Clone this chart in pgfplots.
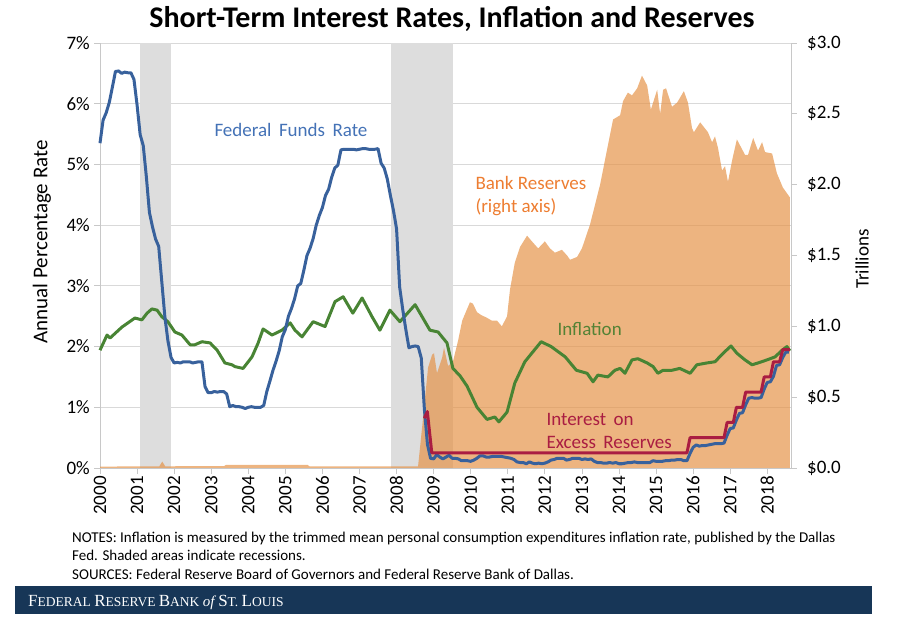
\documentclass[border=0pt]{standalone}
\usepackage{fontspec}
\setmainfont{Carlito}
\newfontfamily\serifft{Liberation Serif}
\usepackage{pgfplots}
\usepackage{pgfplotstable}
\pgfplotsset{compat=1.18}

\definecolor{ffblue}{RGB}{56,97,156}
\definecolor{ffbluetext}{RGB}{68,114,182}
\definecolor{inflgreen}{RGB}{72,132,52}
\definecolor{inflgreentext}{RGB}{84,130,53}
\definecolor{ioer}{RGB}{170,29,66}
\definecolor{resorange}{RGB}{229,148,74}
\definecolor{restext}{RGB}{237,125,49}
\definecolor{recgray}{RGB}{221,221,221}
\definecolor{gridgray}{RGB}{217,217,217}
\definecolor{axgray}{RGB}{200,200,200}
\definecolor{navy}{RGB}{23,54,87}

\pgfplotstableread[row sep=\\]{
yr m v\\
2000 1 5.35\\ 2000 2 5.73\\ 2000 3 5.85\\ 2000 4 6.02\\ 2000 5 6.27\\ 2000 6 6.53\\ 2000 7 6.54\\ 2000 8 6.50\\ 2000 9 6.52\\ 2000 10 6.51\\ 2000 11 6.51\\ 2000 12 6.40\\
2001 1 5.98\\ 2001 2 5.49\\ 2001 3 5.31\\ 2001 4 4.80\\ 2001 5 4.21\\ 2001 6 3.97\\ 2001 7 3.77\\ 2001 8 3.65\\ 2001 9 3.07\\ 2001 10 2.49\\ 2001 11 2.09\\ 2001 12 1.82\\
2002 1 1.73\\ 2002 2 1.74\\ 2002 3 1.73\\ 2002 4 1.75\\ 2002 5 1.75\\ 2002 6 1.75\\ 2002 7 1.73\\ 2002 8 1.74\\ 2002 9 1.75\\ 2002 10 1.75\\ 2002 11 1.34\\ 2002 12 1.24\\
2003 1 1.24\\ 2003 2 1.26\\ 2003 3 1.25\\ 2003 4 1.26\\ 2003 5 1.26\\ 2003 6 1.22\\ 2003 7 1.01\\ 2003 8 1.03\\ 2003 9 1.01\\ 2003 10 1.01\\ 2003 11 1.00\\ 2003 12 0.98\\
2004 1 1.00\\ 2004 2 1.01\\ 2004 3 1.00\\ 2004 4 1.00\\ 2004 5 1.00\\ 2004 6 1.03\\ 2004 7 1.26\\ 2004 8 1.43\\ 2004 9 1.61\\ 2004 10 1.76\\ 2004 11 1.93\\ 2004 12 2.16\\
2005 1 2.28\\ 2005 2 2.50\\ 2005 3 2.63\\ 2005 4 2.79\\ 2005 5 3.00\\ 2005 6 3.04\\ 2005 7 3.26\\ 2005 8 3.50\\ 2005 9 3.62\\ 2005 10 3.78\\ 2005 11 4.00\\ 2005 12 4.16\\
2006 1 4.29\\ 2006 2 4.49\\ 2006 3 4.59\\ 2006 4 4.79\\ 2006 5 4.94\\ 2006 6 4.99\\ 2006 7 5.24\\ 2006 8 5.25\\ 2006 9 5.25\\ 2006 10 5.25\\ 2006 11 5.25\\ 2006 12 5.24\\
2007 1 5.25\\ 2007 2 5.26\\ 2007 3 5.26\\ 2007 4 5.25\\ 2007 5 5.25\\ 2007 6 5.25\\ 2007 7 5.26\\ 2007 8 5.02\\ 2007 9 4.94\\ 2007 10 4.76\\ 2007 11 4.49\\ 2007 12 4.24\\
2008 1 3.94\\ 2008 2 2.98\\ 2008 3 2.61\\ 2008 4 2.28\\ 2008 5 1.98\\ 2008 6 2.00\\ 2008 7 2.01\\ 2008 8 2.00\\ 2008 9 1.81\\ 2008 10 0.97\\ 2008 11 0.39\\ 2008 12 0.16\\
2009 1 0.15\\ 2009 2 0.22\\ 2009 3 0.18\\ 2009 4 0.15\\ 2009 5 0.18\\ 2009 6 0.21\\ 2009 7 0.16\\ 2009 8 0.16\\ 2009 9 0.15\\ 2009 10 0.12\\ 2009 11 0.12\\ 2009 12 0.12\\
2010 1 0.11\\ 2010 2 0.13\\ 2010 3 0.16\\ 2010 4 0.20\\ 2010 5 0.20\\ 2010 6 0.18\\ 2010 7 0.18\\ 2010 8 0.19\\ 2010 9 0.19\\ 2010 10 0.19\\ 2010 11 0.19\\ 2010 12 0.18\\
2011 1 0.17\\ 2011 2 0.16\\ 2011 3 0.14\\ 2011 4 0.10\\ 2011 5 0.09\\ 2011 6 0.09\\ 2011 7 0.07\\ 2011 8 0.10\\ 2011 9 0.08\\ 2011 10 0.07\\ 2011 11 0.08\\ 2011 12 0.07\\
2012 1 0.08\\ 2012 2 0.10\\ 2012 3 0.13\\ 2012 4 0.14\\ 2012 5 0.16\\ 2012 6 0.16\\ 2012 7 0.16\\ 2012 8 0.13\\ 2012 9 0.14\\ 2012 10 0.16\\ 2012 11 0.16\\ 2012 12 0.16\\
2013 1 0.14\\ 2013 2 0.15\\ 2013 3 0.14\\ 2013 4 0.15\\ 2013 5 0.11\\ 2013 6 0.09\\ 2013 7 0.09\\ 2013 8 0.08\\ 2013 9 0.08\\ 2013 10 0.09\\ 2013 11 0.08\\ 2013 12 0.09\\
2014 1 0.07\\ 2014 2 0.07\\ 2014 3 0.08\\ 2014 4 0.09\\ 2014 5 0.09\\ 2014 6 0.10\\ 2014 7 0.09\\ 2014 8 0.09\\ 2014 9 0.09\\ 2014 10 0.09\\ 2014 11 0.09\\ 2014 12 0.12\\
2015 1 0.11\\ 2015 2 0.11\\ 2015 3 0.11\\ 2015 4 0.12\\ 2015 5 0.12\\ 2015 6 0.13\\ 2015 7 0.13\\ 2015 8 0.14\\ 2015 9 0.14\\ 2015 10 0.12\\ 2015 11 0.12\\ 2015 12 0.24\\
2016 1 0.34\\ 2016 2 0.38\\ 2016 3 0.36\\ 2016 4 0.37\\ 2016 5 0.37\\ 2016 6 0.38\\ 2016 7 0.39\\ 2016 8 0.40\\ 2016 9 0.40\\ 2016 10 0.40\\ 2016 11 0.41\\ 2016 12 0.54\\
2017 1 0.65\\ 2017 2 0.66\\ 2017 3 0.79\\ 2017 4 0.90\\ 2017 5 0.91\\ 2017 6 1.04\\ 2017 7 1.15\\ 2017 8 1.16\\ 2017 9 1.15\\ 2017 10 1.15\\ 2017 11 1.16\\ 2017 12 1.30\\
2018 1 1.41\\ 2018 2 1.42\\ 2018 3 1.51\\ 2018 4 1.69\\ 2018 5 1.70\\ 2018 6 1.82\\ 2018 7 1.91\\ 2018 8 1.91\\
}\ffdata

\pgfplotstableread{
x y
2000.00 1.94
2000.19 2.19
2000.27 2.14
2000.59 2.32
2000.94 2.47
2001.13 2.44
2001.27 2.55
2001.40 2.62
2001.54 2.60
2001.67 2.49
2001.83 2.41
2002.02 2.24
2002.21 2.19
2002.43 2.03
2002.56 2.03
2002.75 2.08
2002.97 2.06
2003.16 1.94
2003.37 1.73
2003.56 1.70
2003.64 1.67
2003.86 1.64
2004.10 1.83
2004.26 2.05
2004.40 2.29
2004.64 2.19
2004.91 2.27
2005.13 2.39
2005.26 2.27
2005.45 2.16
2005.75 2.41
2006.07 2.33
2006.34 2.74
2006.56 2.82
2006.82 2.55
2007.07 2.80
2007.34 2.49
2007.55 2.27
2007.82 2.60
2008.09 2.41
2008.50 2.69
2008.90 2.27
2009.12 2.24
2009.36 2.06
2009.52 1.64
2009.71 1.52
2009.90 1.35
2010.17 1.00
2010.44 0.80
2010.65 0.84
2010.76 0.76
2010.98 0.92
2011.19 1.40
2011.46 1.75
2011.90 2.08
2012.17 2.00
2012.55 1.83
2012.85 1.61
2013.14 1.56
2013.30 1.42
2013.43 1.53
2013.70 1.50
2013.89 1.61
2014.03 1.64
2014.16 1.56
2014.35 1.78
2014.51 1.80
2014.76 1.73
2014.92 1.67
2015.05 1.56
2015.19 1.61
2015.43 1.61
2015.64 1.64
2015.92 1.56
2016.10 1.70
2016.37 1.73
2016.59 1.75
2016.81 1.89
2017.02 2.01
2017.18 1.89
2017.40 1.78
2017.59 1.70
2017.75 1.73
2017.99 1.78
2018.21 1.83
2018.40 1.94
2018.53 2.00
2018.61 1.93
}\infldata

\pgfplotstableread{
x y
2000.00 0.010
2001.60 0.012
2001.68 0.045
2001.76 0.012
2003.35 0.014
2003.40 0.022
2005.60 0.022
2005.65 0.012
2008.58 0.012
2008.71 0.34
2008.85 0.71
2008.96 0.80
2009.01 0.81
2009.09 0.67
2009.23 0.78
2009.28 0.85
2009.39 0.72
2009.52 0.75
2009.66 0.90
2009.77 1.04
2009.85 1.09
2009.98 1.17
2010.06 1.16
2010.17 1.10
2010.28 1.08
2010.44 1.06
2010.57 1.04
2010.71 1.04
2010.84 1.00
2010.98 1.07
2011.06 1.26
2011.19 1.45
2011.33 1.56
2011.52 1.64
2011.65 1.60
2011.82 1.55
2012.00 1.60
2012.14 1.55
2012.27 1.52
2012.46 1.54
2012.60 1.50
2012.68 1.47
2012.87 1.49
2013.00 1.55
2013.22 1.72
2013.49 2.00
2013.68 2.25
2013.84 2.46
2014.03 2.49
2014.11 2.59
2014.24 2.65
2014.35 2.63
2014.49 2.68
2014.62 2.77
2014.76 2.70
2014.86 2.53
2015.03 2.67
2015.11 2.50
2015.19 2.67
2015.27 2.68
2015.43 2.55
2015.57 2.58
2015.75 2.66
2015.86 2.58
2015.97 2.40
2016.02 2.37
2016.19 2.44
2016.40 2.37
2016.51 2.30
2016.59 2.34
2016.67 2.26
2016.78 2.10
2016.86 2.13
2016.94 2.02
2017.05 2.17
2017.18 2.32
2017.40 2.21
2017.48 2.21
2017.62 2.33
2017.75 2.24
2017.86 2.30
2017.94 2.23
2018.13 2.22
2018.26 2.08
2018.42 1.98
2018.61 1.91
}\resdata

\pgfplotstableread{
x y
2008.75 0.82
2008.83 0.93
2008.95 0.25
2015.833 0.25
2015.917 0.50
2016.833 0.50
2016.917 0.75
2017.083 0.75
2017.167 1.00
2017.333 1.00
2017.417 1.25
2017.833 1.25
2017.917 1.50
2018.083 1.50
2018.167 1.75
2018.333 1.75
2018.417 1.95
2018.61 1.95
}\ioerdata

\begin{document}
\begin{tikzpicture}
\path[use as bounding box] (0,0) rectangle (906pt,622pt);
\pgfplotsset{
  base/.style={at={(100pt,154pt)}, anchor=south west, scale only axis,
    width=691pt, height=425pt, xmin=2000, xmax=2018.64,
    ticklabel style={font=\fontsize{19}{19}\selectfont},
    tick style={draw=axgray, line width=0.8pt},
    major tick length=6pt, tick align=outside,
    axis line style={draw=axgray, line width=0.8pt},
    clip=false},
}
% axis 1: grid, recessions, left axis
\begin{axis}[base, ymin=0, ymax=7,
  axis x line*=bottom, axis y line*=left,
  ytick={0,1,2,3,4,5,6,7},
  yticklabels={0\%,1\%,2\%,3\%,4\%,5\%,6\%,7\%},
  xtick={2000,2001,2002,2003,2004,2005,2006,2007,2008,2009,2010,2011,2012,2013,2014,2015,2016,2017,2018},
  xticklabels={2000,2001,2002,2003,2004,2005,2006,2007,2008,2009,2010,2011,2012,2013,2014,2015,2016,2017,2018},
  xticklabel style={rotate=90, anchor=east, inner sep=2pt},
  yticklabel style={inner sep=2pt, xshift=-2pt},
  ymajorgrids, major grid style={draw=gridgray, line width=0.9pt},
]
\addplot[fill=recgray, draw=none] coordinates {(2001.08,7) (2001.92,7)} \closedcycle;
\addplot[fill=recgray, draw=none] coordinates {(2007.85,7) (2009.51,7)} \closedcycle;
\end{axis}
% axis 2: reserves, right axis
\begin{axis}[base, ymin=0, ymax=3,
  axis x line=none, axis y line*=right, xtick=\empty,
  ytick={0,0.5,1,1.5,2,2.5,3},
  yticklabels={\$0.0,\$0.5,\$1.0,\$1.5,\$2.0,\$2.5,\$3.0},
  yticklabel style={inner sep=2pt, xshift=8pt},
]
\addplot[fill=resorange, fill opacity=0.7, draw=none] table[x=x,y=y] {\resdata} \closedcycle;
\end{axis}
% axis 3: lines
\begin{axis}[base, ymin=0, ymax=7, hide axis]
\addplot[inflgreen, line width=3pt, line join=round] table[x=x,y=y] {\infldata};
\addplot[ffblue, line width=3pt, line join=round] table[x expr=\thisrow{yr}+(\thisrow{m}-1)/12, y=v] {\ffdata};
\addplot[ioer, line width=3pt, line join=round] table[x=x,y=y] {\ioerdata};
\end{axis}

% titles and labels
\node[font=\fontsize{30}{30}\selectfont\bfseries] at (452pt,603pt) {Short-Term Interest Rates, Inflation and Reserves};
\node[rotate=90, font=\fontsize{21}{21}\selectfont] at (42pt,380pt) {Annual Percentage Rate};
\node[rotate=90, font=\fontsize{19}{19}\selectfont] at (862pt,363pt) {Trillions};

\node[anchor=west, text=ffbluetext, font=\fontsize{19}{19}\selectfont] at (211pt,492pt) {Federal\, Funds\, Rate};
\node[anchor=west, text=restext, font=\fontsize{19}{19}\selectfont] at (472pt,439pt) {Bank Reserves};
\node[anchor=west, text=restext, font=\fontsize{19}{19}\selectfont] at (472pt,415pt) {(right axis)};
\node[anchor=west, text=inflgreentext, font=\fontsize{19}{19}\selectfont] at (554pt,293pt) {Inflation};
\node[anchor=west, text=ioer, font=\fontsize{19}{19}\selectfont] at (543pt,203pt) {Interest\, on};
\node[anchor=west, text=ioer, font=\fontsize{19}{19}\selectfont] at (543pt,180pt) {Excess\, Reserves};

% notes
\node[anchor=base west, inner sep=0pt, font=\fontsize{15}{15}\selectfont] at (72pt,80pt) {NOTES: Inflation is measured by the trimmed mean personal consumption expenditures inflation rate, published by the Dallas};
\node[anchor=base west, inner sep=0pt, font=\fontsize{15}{15}\selectfont] at (72pt,61pt) {Fed. Shaded areas indicate recessions.};
\node[anchor=base west, inner sep=0pt, font=\fontsize{15}{15}\selectfont] at (72pt,42pt) {SOURCES: Federal Reserve Board of Governors and Federal Reserve Bank of Dallas.};

% footer band
\fill[navy] (15pt,8pt) rectangle (872pt,36pt);
\node[anchor=base west, inner sep=0pt, text=white] at (28pt,16pt) {\serifft\fontsize{17}{17}\selectfont F\fontsize{13.5}{14}\selectfont EDERAL \fontsize{17}{17}\selectfont R\fontsize{13.5}{14}\selectfont ESERVE \fontsize{17}{17}\selectfont B\fontsize{13.5}{14}\selectfont ANK \fontsize{15}{15}\selectfont\itshape of\upshape\ \fontsize{17}{17}\selectfont S\fontsize{13.5}{14}\selectfont T. \fontsize{17}{17}\selectfont L\fontsize{13.5}{14}\selectfont OUIS};
\end{tikzpicture}
\end{document}
